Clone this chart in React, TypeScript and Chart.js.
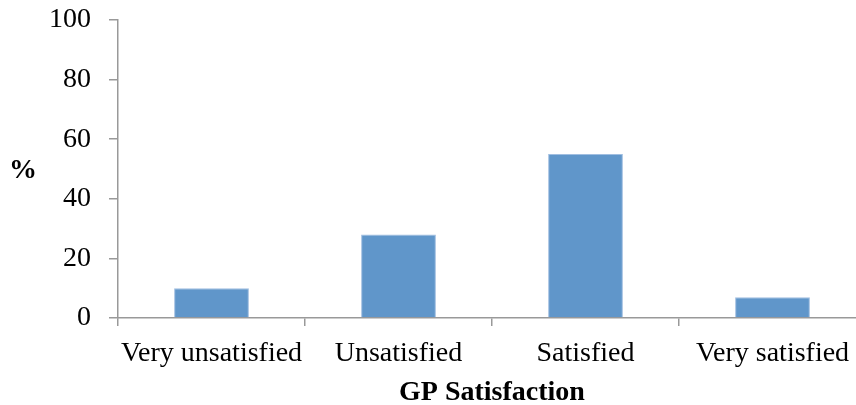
import React, { useEffect, useRef } from "react";
import { Chart, registerables } from "chart.js";

Chart.register(...registerables);

const categories = ["Very unsatisfied", "Unsatisfied", "Satisfied", "Very satisfied"];
const percentValues = [10, 28, 55, 7];
const yTicks = [0, 20, 40, 60, 80, 100];
const xTitle = "GP Satisfaction";
const yTitle = "%";

const FONT = "'Liberation Serif', 'Times New Roman', serif";

const percentLabel = {
  id: "percentLabel",
  afterDraw(chart: any) {
    const { ctx, chartArea } = chart;
    ctx.save();
    ctx.font = `bold 28px ${FONT}`;
    ctx.fillStyle = "#000";
    ctx.textAlign = "center";
    ctx.textBaseline = "middle";
    ctx.fillText(yTitle, 23, (chartArea.top + chartArea.bottom) / 2 + 2);
    ctx.restore();
  },
};

export default function App() {
  const ref = useRef<HTMLCanvasElement | null>(null);
  useEffect(() => {
    if (!ref.current) return;
    const chart = new Chart(ref.current, {
      type: "bar",
      data: {
        labels: categories,
        datasets: [
          {
            data: percentValues,
            backgroundColor: "rgb(96,150,202)",
            borderColor: "rgb(160,190,225)",
            borderWidth: 1,
            barPercentage: 1,
            categoryPercentage: 0.4,
          },
        ],
      },
      options: {
        responsive: false,
        animation: false,
        layout: { padding: { top: 20, left: 0, right: 0, bottom: 0 } },
        plugins: { legend: { display: false }, tooltip: { enabled: false } },
        scales: {
          x: {
            grid: {
              drawOnChartArea: false,
              drawTicks: true,
              tickLength: 8,
              color: "#999",
              lineWidth: 1.5,
            },
            border: { color: "#999", width: 1.5 },
            ticks: {
              color: "#000",
              font: { family: FONT, size: 28 },
              padding: 11,
              maxRotation: 0,
              autoSkip: false,
            },
            title: {
              display: true,
              text: xTitle,
              color: "#000",
              font: { family: FONT, size: 28, weight: "bold" },
              padding: { top: 0, bottom: -5 },
            },
            afterFit: (s: any) => {
              s.height = 87;
              s.paddingLeft = 0;
              s.paddingRight = 0;
            },
          },
          y: {
            min: 0,
            max: 100,
            afterBuildTicks: (s: any) => {
              s.ticks = yTicks.map((v) => ({ value: v }));
            },
            grid: {
              drawOnChartArea: false,
              drawTicks: true,
              tickLength: 9,
              color: "#999",
              lineWidth: 1.5,
            },
            border: { color: "#999", width: 1.5 },
            ticks: {
              color: "#000",
              font: { family: FONT, size: 28 },
              padding: 18,
            },
            afterFit: (s: any) => {
              s.width = 118;
              s.paddingTop = 0;
              s.paddingBottom = 0;
            },
          },
        },
      },
      plugins: [percentLabel],
    });
    return () => chart.destroy();
  }, []);
  return (
    <div
      style={{
        position: "absolute",
        left: 0,
        top: 0,
        width: 856,
        height: 405,
        overflow: "hidden",
        background: "#fff",
      }}
    >
      <canvas ref={ref} width={866} height={405} style={{ display: "block" }} />
    </div>
  );
}
